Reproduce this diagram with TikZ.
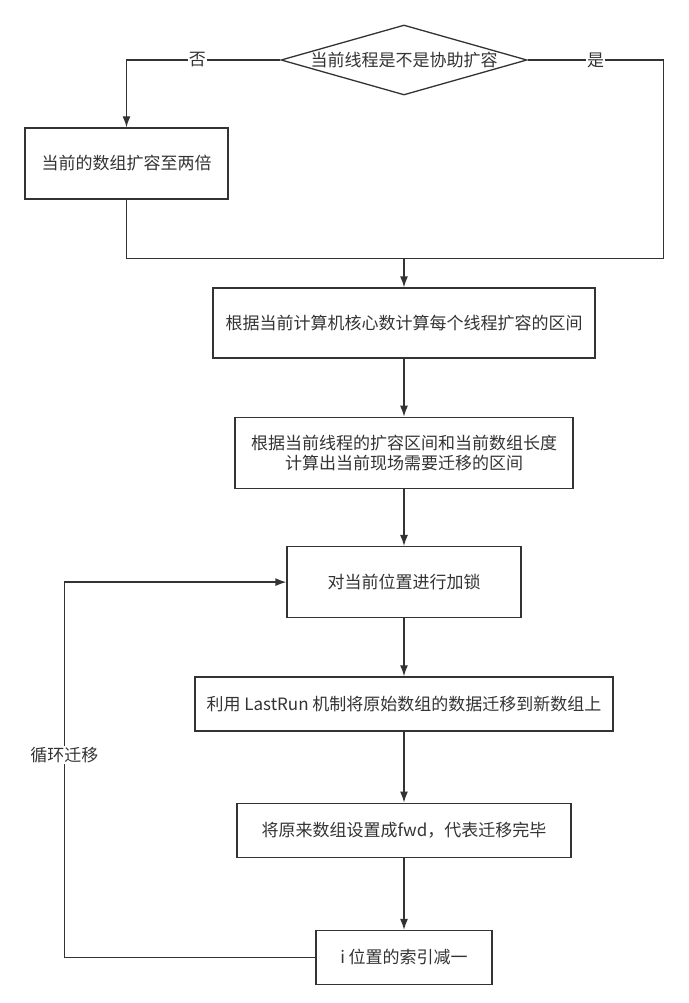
\documentclass[tikz,border=0pt]{standalone}
\usepackage{fontspec}
\setmainfont{Noto Sans CJK SC}
\usetikzlibrary{positioning, arrows.meta, shapes.geometric}
\definecolor{linegray}{HTML}{333333}

\begin{document}
\begin{tikzpicture}[x=1pt, y=-1pt,
      block/.style={draw=linegray, line width=1.3pt, minimum height=70pt,
        align=center, text=linegray, inner sep=0pt,
        font=\fontsize{17}{20}\selectfont},
      decision/.style={block, diamond, aspect=3.5, minimum width=246pt},
      lbl/.style={fill=white, text=linegray, inner sep=1pt,
        font=\fontsize{17}{20}\selectfont},
      flow/.style={draw=linegray, line width=1.3pt},
      >={Latex[length=11pt, width=8pt]}, node distance=58pt]
    \useasboundingbox (0,0) rectangle (688,1003);
    \node[decision] (ask) at (404,60) {当前线程是不是协助扩容};
    \node[block, minimum width=203pt, minimum height=71pt] (double) at (126.5,163.5) {当前的数组扩容至两倍};
    \node[block, minimum width=382pt] (range) at (404,323) {根据当前计算机核心数计算每个线程扩容的区间};
    \node[block, minimum width=338pt, minimum height=71pt, below=58pt of range] (span) {根据当前线程的扩容区间和当前数组长度\\计算出当前现场需要迁移的区间};
    \node[block, minimum width=234pt, minimum height=71pt, below=57pt of span] (lock) {对当前位置进行加锁};
    \node[block, minimum width=418pt, minimum height=54pt, below=58pt of lock] (move) {利用 LastRun 机制将原始数组的数据迁移到新数组上};
    \node[block, minimum width=334pt, minimum height=54pt, below=71pt of move] (fwd) {将原来数组设置成fwd，代表迁移完毕};
    \node[block, minimum width=176pt, minimum height=54pt, below=72pt of fwd] (dec) {i 位置的索引减一};
    \coordinate[above=29pt of range] (merge);
    \draw[flow, ->] (ask.west) -| (double.north) node[lbl, pos=0.27]{否};
    \draw[flow] (ask.east) -- ++(136,0) node[lbl, midway]{是} |- (merge);
    \draw[flow] (double.south) |- (merge);
    \draw[flow, ->] (merge) -- (range);
    \draw[flow, ->] (range) -- (span);
    \draw[flow, ->] (span) -- (lock);
    \draw[flow, ->] (lock) -- (move);
    \draw[flow, ->] (move) -- (fwd);
    \draw[flow, ->] (fwd) -- (dec);
    \draw[flow, ->] (dec.west) -- ++(-251,0) |- (lock.west) node[lbl, pos=0.27]{循环迁移};
  \end{tikzpicture}
\end{document}
